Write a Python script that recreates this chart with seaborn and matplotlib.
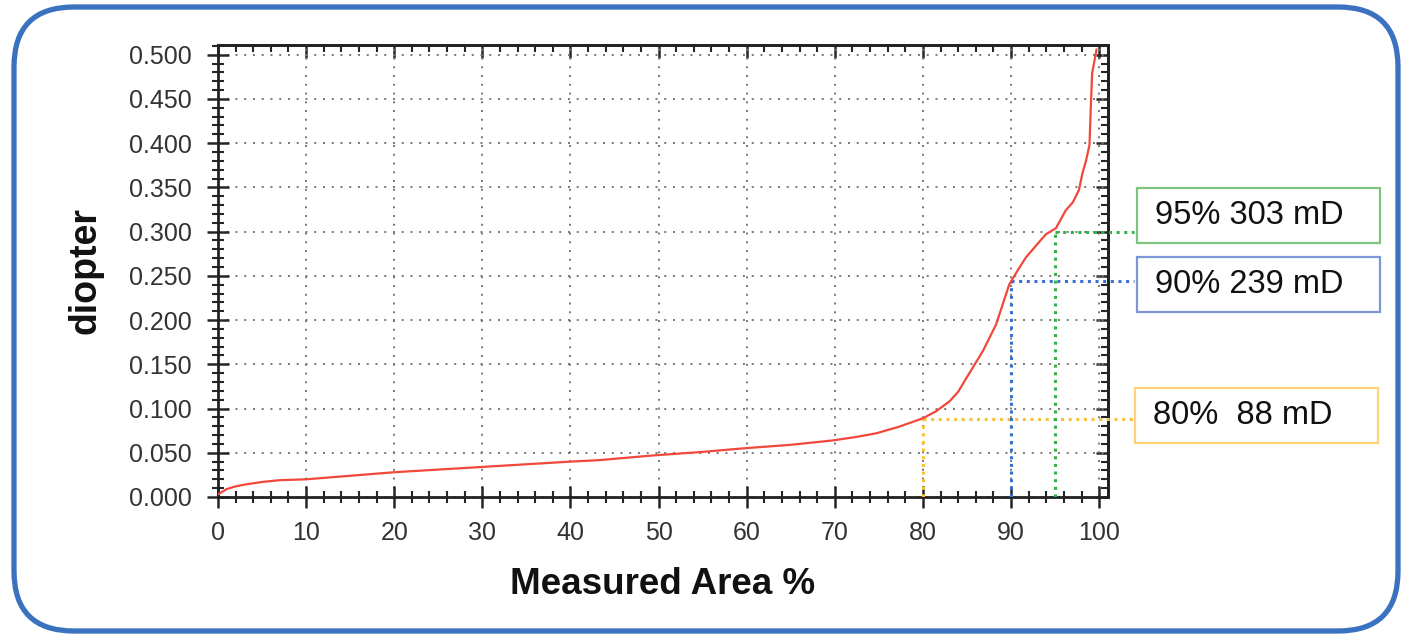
import matplotlib
matplotlib.use("Agg")
import matplotlib.pyplot as plt
import seaborn as sns
import pandas as pd
from matplotlib.patches import FancyBboxPatch, Rectangle
from matplotlib.ticker import MultipleLocator

# ---- data ----
area_pct = [0, 1, 2, 3, 5, 7, 10, 15, 20, 25, 30, 35, 40, 43.3, 49.4, 55, 59.6,
            65, 69.8, 72.5, 74.7, 77.3, 80.0, 81.5, 83.0, 84.0, 84.9, 86.8,
            88.3, 89.8, 90.8, 91.7, 92.9, 93.95, 95.1, 96.2, 97.0, 97.7, 98.1,
            98.5, 98.9, 99.05, 99.2, 99.7]
diopter = [0.003, 0.009, 0.012, 0.014, 0.017, 0.019, 0.020, 0.024, 0.028, 0.031,
           0.034, 0.037, 0.040, 0.0417, 0.047, 0.051, 0.055, 0.059, 0.064,
           0.068, 0.072, 0.0795, 0.089, 0.097, 0.108, 0.119, 0.134, 0.165,
           0.195, 0.2405, 0.257, 0.271, 0.285, 0.297, 0.304, 0.324, 0.333,
           0.347, 0.366, 0.380, 0.398, 0.441, 0.479, 0.506]

marker_pct = [80, 90, 95]
marker_val = [0.0886, 0.244, 0.300]
marker_labels = ["80%  88 mD", "90% 239 mD", "95% 303 mD"]
marker_colors = ["#f7c233", "#3b6fcf", "#33b14a"]
box_edge_colors = ["#ffd27a", "#7d97d6", "#7cc47f"]

x_ticks = list(range(0, 101, 10))
y_ticks = [round(0.05 * i, 3) for i in range(11)]

df = pd.DataFrame({"area": area_pct, "diopter": diopter})

sns.set_style("ticks")
plt.rcParams["font.family"] = ["Liberation Sans", "DejaVu Sans"]

fig = plt.figure(figsize=(14.10, 6.37), dpi=100)
ax = fig.add_axes([218 / 1410, 1 - 497 / 637, (1108 - 218) / 1410, (497 - 45) / 637])

sns.lineplot(data=df, x="area", y="diopter", ax=ax, color="#f0483a", lw=1.6,
             zorder=5)

ax.set_xlim(0, 101)
ax.set_ylim(0, 0.511)
ax.set_xticks(x_ticks)
ax.set_yticks(y_ticks)
ax.set_yticklabels([f"{v:.3f}" for v in y_ticks])
ax.xaxis.set_minor_locator(MultipleLocator(2))
ax.yaxis.set_minor_locator(MultipleLocator(0.01))
ax.grid(True, which="major", color="#777777", linestyle=(0, (1, 3.5)), lw=1.4)

for s in ax.spines.values():
    s.set_linewidth(2)
    s.set_color("#222222")

ax.tick_params(axis="x", which="major", direction="inout", length=16, width=1.8,
               pad=9, labelsize=18, top=False, labelcolor="#333333")
ax.tick_params(axis="x", which="minor", direction="inout", length=9, width=1.5,
               top=False)
ax.tick_params(axis="y", which="major", direction="inout", length=16, width=1.8,
               pad=11, labelsize=18, right=False, labelcolor="#333333")
ax.tick_params(axis="y", which="minor", direction="inout", length=9, width=1.5,
               right=False)

# top and right inward ticks
secx = ax.secondary_xaxis("top")
secx.set_xticks(x_ticks)
secx.xaxis.set_minor_locator(MultipleLocator(2))
secx.tick_params(which="major", direction="in", length=9, width=1.8, labeltop=False)
secx.tick_params(which="minor", direction="in", length=5, width=1.5)
secx.spines["top"].set_linewidth(2)
secy = ax.secondary_yaxis("right")
secy.set_yticks(y_ticks)
secy.yaxis.set_minor_locator(MultipleLocator(0.01))
secy.tick_params(which="major", direction="in", length=9, width=1.8, labelright=False)
secy.tick_params(which="minor", direction="in", length=5, width=1.5)
secy.spines["right"].set_linewidth(2)

ax.set_xlabel("Measured Area %", fontsize=26.5, fontweight="bold", labelpad=16,
              color="#111111")
ax.set_ylabel("diopter", fontsize=27, fontweight="bold", labelpad=18,
              color="#111111")

# marker lines
for p, v, c in zip(marker_pct, marker_val, marker_colors):
    ax.plot([p, p], [0, v], color=c, lw=2.2, linestyle=(0, (1, 1.5)), zorder=4)
    ax.plot([p, 104.0], [v, v], color=c, lw=2.2, linestyle=(0, (1, 1.5)),
            zorder=4, clip_on=False)

# label boxes (pixel coordinates converted to inches)
boxes = [(1135, 388, 1378, 443), (1137, 257, 1380, 312), (1137, 188, 1380, 243)]
for (x0, y0, x1, y1), lab, ec in zip(boxes, marker_labels, box_edge_colors):
    r = Rectangle((x0 / 100, (637 - y1) / 100), (x1 - x0) / 100, (y1 - y0) / 100,
                  transform=fig.dpi_scale_trans, fill=False, edgecolor=ec, lw=1.6)
    fig.add_artist(r)
    fig.text((x0 + 18) / 100, (637 - (y0 + y1) / 2) / 100, lab,
             transform=fig.dpi_scale_trans, fontsize=23.5, va="center", ha="left",
             color="#111111")

# rounded outer border
border = FancyBboxPatch((0.14 + 0.6, 0.06 + 0.6), 13.84 - 1.2, 6.24 - 1.2,
                        boxstyle="round,pad=0.6", transform=fig.dpi_scale_trans,
                        fill=False, edgecolor="#3a72c0", lw=3.8)
fig.add_artist(border)

fig.savefig("out.png", dpi=100)
